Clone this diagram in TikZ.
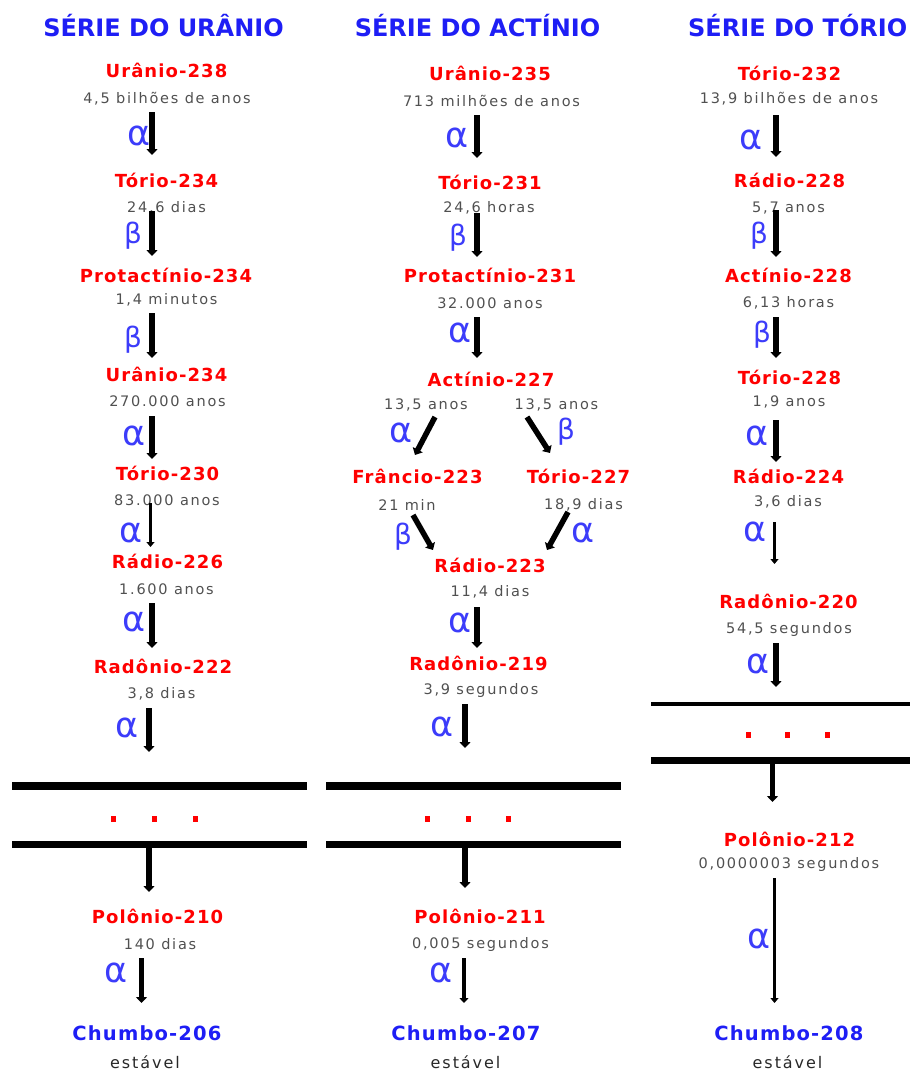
\documentclass[tikz,border=0pt]{standalone}
\usepackage{fontspec}
\usetikzlibrary{arrows.meta}
\newfontfamily\nucfont{DejaVu Sans}[LetterSpace=6]
\newfontfamily\lifefont{DejaVu Sans}[LetterSpace=12]
\newfontfamily\plainfont{DejaVu Sans}
\definecolor{nucred}{RGB}{255,0,0}
\definecolor{ttlblue}{RGB}{30,30,245}
\definecolor{grkblue}{RGB}{60,60,250}
\definecolor{lifegray}{RGB}{80,80,80}
\definecolor{stabgray}{RGB}{40,40,40}
\tikzset{
  series/.style={text=ttlblue, font=\plainfont\bfseries\fontsize{24}{26}\selectfont, inner sep=0pt},
  nuclide/.style={text=nucred, font=\nucfont\bfseries\fontsize{18}{20}\selectfont, inner sep=0pt},
  endnuc/.style={text=ttlblue, font=\nucfont\bfseries\fontsize{19.5}{21}\selectfont, inner sep=0pt},
  halflife/.style={text=lifegray, font=\lifefont\fontsize{14.5}{16}\selectfont, inner sep=0pt},
  stable/.style={text=stabgray, font=\lifefont\fontsize{16}{18}\selectfont, inner sep=0pt},
  alp/.style={text=grkblue, font=\plainfont\fontsize{35}{37}\selectfont, inner sep=0pt},
  bet/.style={text=grkblue, font=\plainfont\fontsize{28}{30}\selectfont, inner sep=0pt},
  decay/.style={line width=5.5pt, -{Triangle[width=11pt,length=6pt]}},
  decaymid/.style={line width=3.5pt, -{Triangle[width=9pt,length=5pt]}},
  decaythin/.style={line width=2.5pt, -{Triangle[width=8pt,length=5pt]}},
  gapbar/.style={line width=7pt},
  gapdot/.style={fill=nucred, minimum width=5pt, minimum height=6pt, inner sep=0pt},
}
\begin{document}
\begin{tikzpicture}[x=1pt,y=-1pt]
\useasboundingbox (0,0) rectangle (910,1073);

% ---------- titles ----------
\node[series] (s1) at (163.5,26) {SÉRIE DO URÂNIO};
\node[series] (s2) at (477.5,26) {SÉRIE DO ACTÍNIO};
\node[series, anchor=west] (s3) at (688,26) {SÉRIE DO TÓRIO};

% ---------- uranium series ----------
\node[nuclide]  (u238)  at (166.5,70.5)  {Urânio-238};
\node[halflife] (u238h) at (167,98.5)    {4,5 bilhões de anos};
\node[nuclide]  (th234) at (166.5,180)   {Tório-234};
\node[halflife] (th234h) at (166.5,207.5) {24,6 dias};
\node[nuclide]  (pa234) at (166,275)     {Protactínio-234};
\node[halflife] (pa234h) at (166.5,300)  {1,4 minutos};
\node[nuclide]  (u234)  at (166.5,374)   {Urânio-234};
\node[halflife] (u234h) at (167.5,401.5) {270.000 anos};
\node[nuclide]  (th230) at (167.5,473)   {Tório-230};
\node[halflife] (th230h) at (167,500)    {83.000 anos};
\node[nuclide]  (ra226) at (167.5,561)   {Rádio-226};
\node[halflife] (ra226h) at (166.5,589.5) {1.600 anos};
\node[nuclide]  (rn222) at (163,666.5)   {Radônio-222};
\node[halflife] (rn222h) at (161.5,694)  {3,8 dias};
\node[nuclide]  (po210) at (157.5,916)   {Polônio-210};
\node[halflife] (po210h) at (160,944)    {140 dias};
\node[endnuc]   (pb206) at (147,1033)    {Chumbo-206};
\node[stable]   (pb206h) at (145,1062)   {estável};

\draw[decay] (152,112) coordinate (u238o) -- (152,155) coordinate (th234i);
\draw[decay] (152,211) coordinate (th234o) -- (152,256) coordinate (pa234i);
\draw[decay] (152,313) coordinate (pa234o) -- (152,358) coordinate (u234i);
\draw[decay] (152,416) coordinate (u234o) -- (152,459) coordinate (th230i);
\draw[decaythin] (150.5,503) coordinate (th230o) -- (150.5,547) coordinate (ra226i);
\draw[decay] (152,603) coordinate (ra226o) -- (152,648) coordinate (rn222i);
\draw[decay] (149,708) coordinate (rn222o) -- (149,752) coordinate (gap1i);
\draw[decay] (149,846) coordinate (gap1o) -- (149,892) coordinate (po210i);
\draw[decay] (141.5,958) coordinate (po210o) -- (141.5,1003) coordinate (pb206i);

\node[alp] (g11) at (139,136) {α};
\node[bet] (g12) at (133,236) {β};
\node[bet] (g13) at (133,340) {β};
\node[alp] (g14) at (134,436) {α};
\node[alp] (g15) at (131,533) {α};
\node[alp] (g16) at (134,622) {α};
\node[alp] (g17) at (127,728) {α};
\node[alp] (g18) at (116,973) {α};

\draw[gapbar, line width=8pt] (12,786) coordinate (bar1a) -- (307,786) coordinate (bar1b);
\draw[gapbar] (12,844) coordinate (bar1c) -- (307,844) coordinate (bar1d);
\node[gapdot] (d11) at (113,819) {};
\node[gapdot] (d12) at (154,819) {};
\node[gapdot] (d13) at (195,819) {};

% ---------- actinium series ----------
\node[nuclide]  (u235)  at (490,73.5)    {Urânio-235};
\node[halflife] (u235h) at (491.5,100.5) {713 milhões de anos};
\node[nuclide]  (th231) at (490,182.5)   {Tório-231};
\node[halflife] (th231h) at (489,208)    {24,6 horas};
\node[nuclide]  (pa231) at (490,275)     {Protactínio-231};
\node[halflife] (pa231h) at (490,303)    {32.000 anos};
\node[nuclide]  (ac227) at (491,379.5)   {Actínio-227};
\node[halflife] (ac227l) at (426,405)    {13,5 anos};
\node[halflife] (ac227r) at (556.5,405)  {13,5 anos};
\node[nuclide]  (fr223) at (417.5,476.5) {Frâncio-223};
\node[halflife] (fr223h) at (407,505)    {21 min};
\node[nuclide]  (th227) at (578.5,476.5) {Tório-227};
\node[halflife] (th227h) at (583.5,505)  {18,9 dias};
\node[nuclide]  (ra223) at (490,565)     {Rádio-223};
\node[halflife] (ra223h) at (490,592)    {11,4 dias};
\node[nuclide]  (rn219) at (478.5,663.5) {Radônio-219};
\node[halflife] (rn219h) at (481,690)    {3,9 segundos};
\node[nuclide]  (po211) at (480,916)     {Polônio-211};
\node[halflife] (po211h) at (480.5,944)  {0,005 segundos};
\node[endnuc]   (pb207) at (466,1033)    {Chumbo-207};
\node[stable]   (pb207h) at (465.5,1062) {estável};

\draw[decay] (477,115) coordinate (u235o) -- (477,158) coordinate (th231i);
\draw[decay] (477,213) coordinate (th231o) -- (477,257) coordinate (pa231i);
\draw[decay] (477,317) coordinate (pa231o) -- (477,358) coordinate (ac227i);
\draw[decay] (435,417) coordinate (ac227a) -- (415,455) coordinate (fr223i);
\draw[decay] (527,417) coordinate (ac227b) -- (550,453) coordinate (th227i);
\draw[decay] (413,515) coordinate (fr223o) -- (433,550) coordinate (ra223a);
\draw[decay] (568,512) coordinate (th227o) -- (547,550) coordinate (ra223b);
\draw[decay] (477,607) coordinate (ra223o) -- (477,648) coordinate (rn219i);
\draw[decay] (465,704) coordinate (rn219o) -- (465,748) coordinate (gap2i);
\draw[decay] (465,846) coordinate (gap2o) -- (465,888) coordinate (po211i);
\draw[decaymid] (464,958) coordinate (po211o) -- (464,1003) coordinate (pb207i);

\node[alp] (g21) at (457,138) {α};
\node[bet] (g22) at (458,238) {β};
\node[alp] (g23) at (460,333) {α};
\node[alp] (g24) at (401,433) {α};
\node[bet] (g25) at (566,432) {β};
\node[bet] (g26) at (403,537) {β};
\node[alp] (g27) at (583,533) {α};
\node[alp] (g28) at (460,623) {α};
\node[alp] (g29) at (442,727) {α};
\node[alp] (g2x) at (441,973) {α};

\draw[gapbar, line width=8pt] (326,786) coordinate (bar2a) -- (621,786) coordinate (bar2b);
\draw[gapbar] (326,844) coordinate (bar2c) -- (621,844) coordinate (bar2d);
\node[gapdot] (d21) at (427,819) {};
\node[gapdot] (d22) at (468,819) {};
\node[gapdot] (d23) at (508,819) {};

% ---------- thorium series ----------
\node[nuclide]  (th232) at (789.5,73.5)  {Tório-232};
\node[halflife] (th232h) at (789,98.5)   {13,9 bilhões de anos};
\node[nuclide]  (ra228) at (789.5,180)   {Rádio-228};
\node[halflife] (ra228h) at (788.5,208)  {5,7 anos};
\node[nuclide]  (ac228) at (788.5,275)   {Actínio-228};
\node[halflife] (ac228h) at (788.5,303)  {6,13 horas};
\node[nuclide]  (th228) at (789.5,377)   {Tório-228};
\node[halflife] (th228h) at (789,402)    {1,9 anos};
\node[nuclide]  (ra224) at (788.5,476.5) {Rádio-224};
\node[halflife] (ra224h) at (788,502)    {3,6 dias};
\node[nuclide]  (rn220) at (788.5,601)   {Radônio-220};
\node[halflife] (rn220h) at (789,629.5)  {54,5 segundos};
\node[nuclide]  (po212) at (789.5,839)   {Polônio-212};
\node[halflife] (po212h) at (789,864.5)  {0,0000003 segundos};
\node[endnuc]   (pb208) at (789,1033)    {Chumbo-208};
\node[stable]   (pb208h) at (787.5,1062) {estável};

\draw[decay] (776,115) coordinate (th232o) -- (776,157) coordinate (ra228i);
\draw[decay] (776,210) coordinate (ra228o) -- (776,257) coordinate (ac228i);
\draw[decay] (776,317) coordinate (ac228o) -- (776,358) coordinate (th228i);
\draw[decay] (776,420) coordinate (th228o) -- (776,462) coordinate (ra224i);
\draw[decaythin] (774.5,522) coordinate (ra224o) -- (774.5,564) coordinate (rn220i);
\draw[decay] (776,643) coordinate (rn220o) -- (776,687) coordinate (gap3i);
\draw[decay] (772.5,762) coordinate (gap3o) -- (772.5,802) coordinate (po212i);
\draw[decaythin] (774.5,878) coordinate (po212o) -- (774.5,1003) coordinate (pb208i);

\node[alp] (g31) at (751,140) {α};
\node[bet] (g32) at (759,236) {β};
\node[bet] (g33) at (762,335) {β};
\node[alp] (g34) at (757,436) {α};
\node[alp] (g35) at (755,532) {α};
\node[alp] (g36) at (758,664) {α};
\node[alp] (g37) at (759,939) {α};

\draw[gapbar, line width=4pt] (651,704) coordinate (bar3a) -- (910,704) coordinate (bar3b);
\draw[gapbar] (651,760) coordinate (bar3c) -- (910,760) coordinate (bar3d);
\node[gapdot] (d31) at (748,735) {};
\node[gapdot] (d32) at (787,735) {};
\node[gapdot] (d33) at (827,735) {};
\end{tikzpicture}
\end{document}
